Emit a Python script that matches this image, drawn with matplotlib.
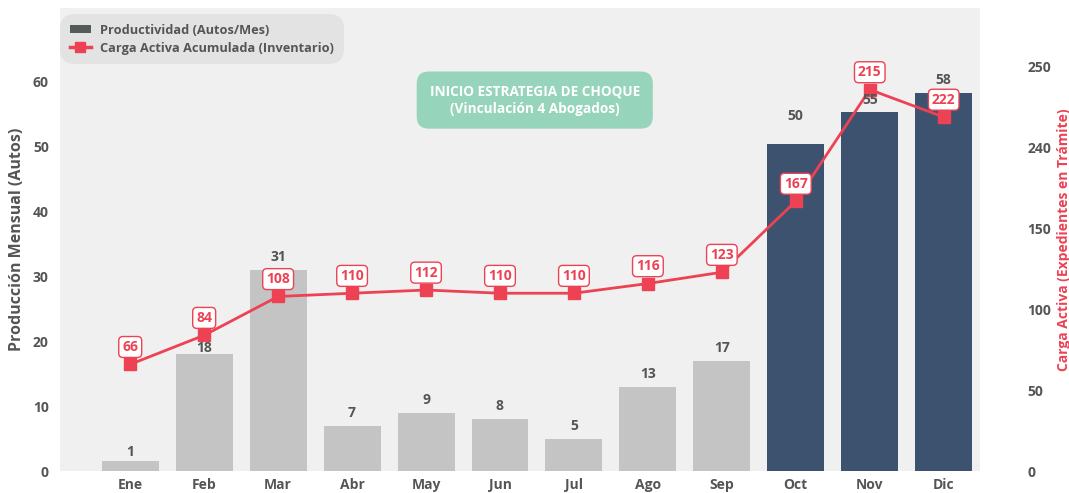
import numpy as np
import matplotlib.pyplot as plt
from matplotlib.lines import Line2D
from matplotlib.patches import Patch

plt.rcParams['font.family'] = ['Open Sans', 'DejaVu Sans']

#datos
meses = ["Ene", "Feb", "Mar", "Abr", "May", "Jun", "Jul", "Ago", "Sep", "Oct", "Nov", "Dic"]
produccion = [1.5, 18, 31, 7, 9, 8, 5, 13, 17, 50.5, 55.3, 58.3]
produccion_txt = ["1", "18", "31", "7", "9", "8", "5", "13", "17", "50", "55", "58"]
carga = [66, 84, 108, 110, 112, 110, 110, 116, 123, 167, 236, 219]
carga_txt = ["66", "84", "108", "110", "112", "110", "110", "116", "123", "167", "215", "222"]
der_ticks = [0, 50, 100, 150, 200, 250]
der_labels = ["0", "50", "100", "150", "240", "250"]
izq_ticks = [0, 10, 20, 30, 40, 50, 60]

gris = "#c4c4c4"
azul = "#3d526e"
rojo = "#ec4253"
texto = "#555555"

fig = plt.figure(figsize=(10.69, 4.93), dpi=100)
ax = fig.add_axes([0.0561, 0.0446, 0.8606, 0.9392])
ax.set_facecolor("#f0f0f0")
x = np.arange(len(meses))
colores = [gris]*9 + [azul]*3
ax.bar(x, produccion, width=0.77, color=colores, zorder=2)
ax.set_xlim(-0.95, 11.49)
ax.set_ylim(0, 71.4)
ax.set_yticks(izq_ticks)
ax.set_xticks(x)
ax.set_xticklabels(meses)
ax.tick_params(length=0, labelsize=10, colors=texto, pad=5)
ax.tick_params(axis="y", pad=8)
for lab in ax.get_xticklabels() + ax.get_yticklabels():
    lab.set_fontweight("bold")
for s in ax.spines.values():
    s.set_visible(False)
ax.set_ylabel("Producción Mensual (Autos)", fontsize=11.5, fontweight="bold", color=texto, labelpad=6)

ax2 = ax.twinx()
ax2.plot(x, carga, color=rojo, lw=2, marker="s", markersize=8.5, zorder=4)
for i in range(len(meses)):
    ax2.annotate(carga_txt[i], (x[i], carga[i]), xytext=(0, 12.5), textcoords="offset points",
                 ha="center", va="center", fontsize=10, fontweight="bold", color=rojo,
                 bbox=dict(boxstyle="round,pad=0.25,rounding_size=0.3", fc="white", ec=rojo, lw=1),
                 zorder=5)
#etiquetas de barras encima de la linea
for i in range(len(meses)):
    off = 0.9
    if i == 9:
        off = 3.2
    if i == 0:
        off = 0.4
    if i == 1:
        off = -0.1
    ax2.text(x[i], produccion[i] + off, produccion_txt[i], ha="center", va="bottom",
             fontsize=10, fontweight="bold", color=texto, zorder=6, transform=ax.transData)
ax2.set_ylim(0, 286.5)
ax2.set_yticks(der_ticks)
ax2.set_yticklabels(der_labels)
ax2.tick_params(length=0, labelsize=10, colors=texto, pad=34)
for lab in ax2.get_yticklabels():
    lab.set_fontweight("bold")
    lab.set_horizontalalignment("left")
for s in ax2.spines.values():
    s.set_visible(False)
ax2.set_ylabel("Carga Activa (Expedientes en Trámite)", fontsize=10, fontweight="bold", color=rojo, labelpad=4)

#anotacion
ax2.text(5.47, 57.2, "INICIO ESTRATEGIA DE CHOQUE\n(Vinculación 4 Abogados)", ha="center", va="center",
         fontsize=9.8, fontweight="bold", color="white", linespacing=1.3, zorder=7, transform=ax.transData,
         bbox=dict(boxstyle="round,pad=0.95,rounding_size=0.9", fc="#96d4bc", ec="none"))

#leyenda
handles = [Patch(facecolor="#555a5a"),
           Line2D([0], [0], color=rojo, lw=2.5, marker="s", markersize=7)]
leg = ax2.legend(handles, ["Productividad (Autos/Mes)", "Carga Activa Acumulada (Inventario)"],
                 loc="upper left", bbox_to_anchor=(0.0, 0.987), borderaxespad=0, frameon=True,
                 fancybox=True, facecolor="#e3e3e3", edgecolor="none", framealpha=1,
                 prop=dict(weight="bold", size=9.2), labelspacing=0.4, handlelength=1.7,
                 handleheight=0.6, handletextpad=0.7, borderpad=0.75)
for t in leg.get_texts():
    t.set_color(texto)
leg.get_frame().set_boxstyle("round,pad=0,rounding_size=1.2")
leg.set_zorder(10)

plt.savefig("out.png", dpi=100)
